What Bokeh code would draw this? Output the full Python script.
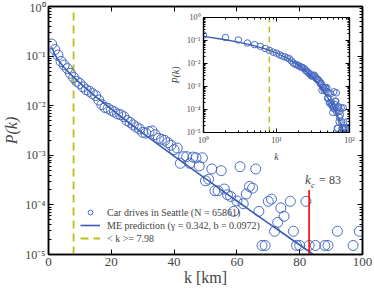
from bokeh.plotting import figure
from bokeh.models import (LinearAxis, LogAxis, FixedTicker, CustomJSTickFormatter,
                          Legend, LegendItem, Label)
from bokeh.layouts import column
from bokeh.embed import file_html
from bokeh.resources import INLINE

# ---------------- data ----------------
k_data = list(range(1, 76)) + [77, 78, 79, 80, 82, 83, 85, 88, 89, 92, 97, 99]
p_data = [0.175, 0.135, 0.105, 0.078, 0.066, 0.056, 0.045, 0.037, 0.031, 0.028,
          0.024, 0.021, 0.0195, 0.0175, 0.0160, 0.0130, 0.0105, 0.0092, 0.0088, 0.0080,
          0.0075, 0.0068, 0.0066, 0.0060, 0.0050, 0.0046, 0.0041, 0.0037, 0.0034, 0.0029,
          0.0028, 0.0030, 0.0031, 0.0026, 0.0022, 0.0021, 0.0020, 0.0018, 0.0016, 0.0013,
          0.0014, 0.00069, 0.00094, 0.00094, 0.00069, 0.00092, 0.00089, 0.00061, 0.00089, 0.000306,
          0.00033, 0.00053, 0.000193, 0.000193, 0.00049, 0.000209, 0.00016, 0.000148, 0.000074, 0.00012,
          0.00059, 0.000106, 0.000166, 0.000235, 0.000218, 0.00053, 0.000074, 1.52e-5, 1.52e-5, 0.000118,
          0.000131, 2.94e-5, 4.45e-5, 8.7e-5, 5.9e-5,
          0.000118, 2.94e-5, 1.52e-5, 1.52e-5, 0.000118, 1.52e-5, 1.52e-5, 1.52e-5, 1.52e-5,
          2.94e-5, 1.52e-5, 2.94e-5]

model_k = [1, 2, 3, 4, 5, 7, 10, 15, 20, 25, 30, 35, 40, 45, 50, 55, 60, 65, 70, 75, 80, 85]
model_p = [0.1506, 0.1078, 0.0852, 0.0700, 0.0589, 0.04321, 0.02857, 0.01530, 0.00853,
           0.004859, 0.002809, 0.001639, 0.000964, 0.000569, 0.0003376, 0.000201, 0.00012,
           7.18e-5, 4.306e-5, 2.59e-5, 1.556e-5, 9.39e-6]

mean_k = 7.98
k_c = 83
k_c_top = 2.0e-4
y_lo, y_hi = 1e-5, 1.0

label_data = "Car drives in Seattle (N = 65861)"
label_model = "ME prediction (\u03b3 = 0.342, b = 0.0972)"
label_mean = "< k >= 7.98"

# ---------------- style ----------------
FONT = "Liberation Serif"
C_PTS = "#4a6cc4"
C_LINE = "#3a5cb0"
C_MEAN = "#bdbd1a"
C_KC = "#ff0000"

sup_js = """
const sup = {'0':'\u2070','1':'\u00b9','2':'\u00b2','3':'\u00b3','4':'\u2074','5':'\u2075',
             '6':'\u2076','7':'\u2077','8':'\u2078','9':'\u2079','-':'\u207b'};
const e = Math.round(Math.log10(tick));
return '10' + String(e).split('').map(c => sup[c]).join('');
"""

y_major = [1e-5, 1e-4, 1e-3, 1e-2, 1e-1, 1.0]
y_minor = [m * d for d in y_major[:-1] for m in range(2, 10)]


def style_axis(ax, font_size, labels=True, lw=1.5, tin=5, tmin=3):
    ax.axis_line_width = lw
    ax.axis_line_color = "black"
    ax.major_tick_in = tin
    ax.major_tick_out = 0
    ax.minor_tick_in = tmin
    ax.minor_tick_out = 0
    ax.major_label_text_font = FONT
    ax.major_label_text_font_size = font_size
    ax.major_label_standoff = 3
    ax.axis_label_text_font = FONT
    if not labels:
        ax.formatter = CustomJSTickFormatter(code="return '';")
        ax.major_label_text_font_size = "1px"
        ax.major_label_standoff = 0


# ---------------- main figure ----------------
p = figure(width=372, height=290, x_range=(0, 100), y_range=(y_lo, y_hi),
           y_axis_type="log", output_backend="svg", toolbar_location=None,
           min_border_left=48, min_border_right=10, min_border_top=6, min_border_bottom=36)
p.grid.visible = False
p.outline_line_color = "black"
p.outline_line_width = 1.5

r_mean = p.line([mean_k, mean_k], [y_lo, y_hi], line_color=C_MEAN, line_width=1.8, line_dash="8 5")
r_pts = p.scatter(k_data, p_data, marker="circle", size=10, fill_color=None,
                  line_color=C_PTS, line_width=1)
r_line = p.line(model_k, model_p, line_color=C_LINE, line_width=1.6)
p.segment([k_c], [y_lo], [k_c], [k_c_top], line_color=C_KC, line_width=1.6)

p.xaxis.ticker = FixedTicker(ticks=[0, 20, 40, 60, 80, 100], minor_ticks=[])
p.yaxis.ticker = FixedTicker(ticks=y_major, minor_ticks=y_minor)
p.yaxis.formatter = CustomJSTickFormatter(code=sup_js)
style_axis(p.xaxis[0], "13px")
style_axis(p.yaxis[0], "12px")
p.xaxis.major_label_standoff = 3
p.xaxis.axis_label = "k [km]"
p.xaxis.axis_label_text_font_size = "16px"
p.xaxis.axis_label_text_font_style = "normal"
p.xaxis.axis_label_standoff = 0
p.yaxis.axis_label = "P(k)"
p.yaxis.axis_label_text_font_size = "16px"
p.yaxis.axis_label_text_font_style = "italic"
p.yaxis.axis_label_standoff = 2

top_ax = LinearAxis(ticker=FixedTicker(ticks=[0, 20, 40, 60, 80, 100], minor_ticks=[]))
style_axis(top_ax, "13px", labels=False)
p.add_layout(top_ax, "above")
right_ax = LogAxis(ticker=FixedTicker(ticks=y_major, minor_ticks=y_minor))
style_axis(right_ax, "12px", labels=False)
p.add_layout(right_ax, "right")

legend = Legend(items=[LegendItem(label=label_data, renderers=[r_pts]),
                       LegendItem(label=label_model, renderers=[r_line]),
                       LegendItem(label=label_mean, renderers=[r_mean])],
                location=(32, 10))
legend.border_line_color = None
legend.background_fill_alpha = 0
legend.label_text_font = FONT
legend.label_text_font_size = "10px"
legend.glyph_width = 20
legend.glyph_height = 12
legend.label_height = 12
legend.spacing = 1
legend.padding = 0
legend.margin = 0
legend.label_standoff = 7
p.add_layout(legend)

p.add_layout(Label(x=k_c, y=k_c_top, x_offset=-4, y_offset=3, text="k",
                   text_font=FONT, text_font_style="italic", text_font_size="13px"))
p.add_layout(Label(x=k_c, y=k_c_top, x_offset=2, y_offset=0, text="c",
                   text_font=FONT, text_font_style="italic", text_font_size="9px"))
p.add_layout(Label(x=k_c, y=k_c_top, x_offset=10, y_offset=3, text="=  83",
                   text_font=FONT, text_font_size="12px"))

# ---------------- inset ----------------
ins = figure(width=204, height=153, x_axis_type="log", y_axis_type="log",
             x_range=(1, 100), y_range=(y_lo, y_hi), output_backend="svg",
             toolbar_location=None, min_border_left=47, min_border_right=3,
             min_border_top=6, min_border_bottom=30,
             border_fill_alpha=0, background_fill_color="white")
ins.styles = {"position": "absolute", "left": "155px", "top": "11px"}
ins.grid.visible = False
ins.outline_line_color = "black"
ins.outline_line_width = 1.2

ins.line([mean_k, mean_k], [y_lo, y_hi], line_color=C_MEAN, line_width=1.5, line_dash="6 4")
ins.scatter(k_data, p_data, marker="circle", size=6.5, fill_color=None,
            line_color=C_PTS, line_width=1)
ins.line(model_k, model_p, line_color=C_LINE, line_width=1.3)

x_major_in = [1, 10, 100]
x_minor_in = [m * d for d in x_major_in[:-1] for m in range(2, 10)]
ins.xaxis.ticker = FixedTicker(ticks=x_major_in, minor_ticks=x_minor_in)
ins.yaxis.ticker = FixedTicker(ticks=y_major, minor_ticks=y_minor)
ins.xaxis.formatter = CustomJSTickFormatter(code=sup_js)
ins.yaxis.formatter = CustomJSTickFormatter(code=sup_js)
for ax in (ins.xaxis[0], ins.yaxis[0]):
    style_axis(ax, "8px", lw=1.2, tin=4, tmin=2)
    ax.major_label_standoff = 3
ins.xaxis.axis_label = "k"
ins.yaxis.axis_label = "P(k)"
for ax in (ins.xaxis[0], ins.yaxis[0]):
    ax.axis_label_text_font_size = "10px"
    ax.axis_label_text_font_style = "italic"
    ax.axis_label_standoff = 3

itop = LogAxis(ticker=FixedTicker(ticks=x_major_in, minor_ticks=x_minor_in))
style_axis(itop, "8px", labels=False, lw=1.2, tin=4, tmin=2)
ins.add_layout(itop, "above")
iright = LogAxis(ticker=FixedTicker(ticks=y_major, minor_ticks=y_minor))
style_axis(iright, "8px", labels=False, lw=1.2, tin=4, tmin=2)
ins.add_layout(iright, "right")

layout = column(p, ins, spacing=0)
open("out.html", "w").write(file_html(layout, INLINE))
